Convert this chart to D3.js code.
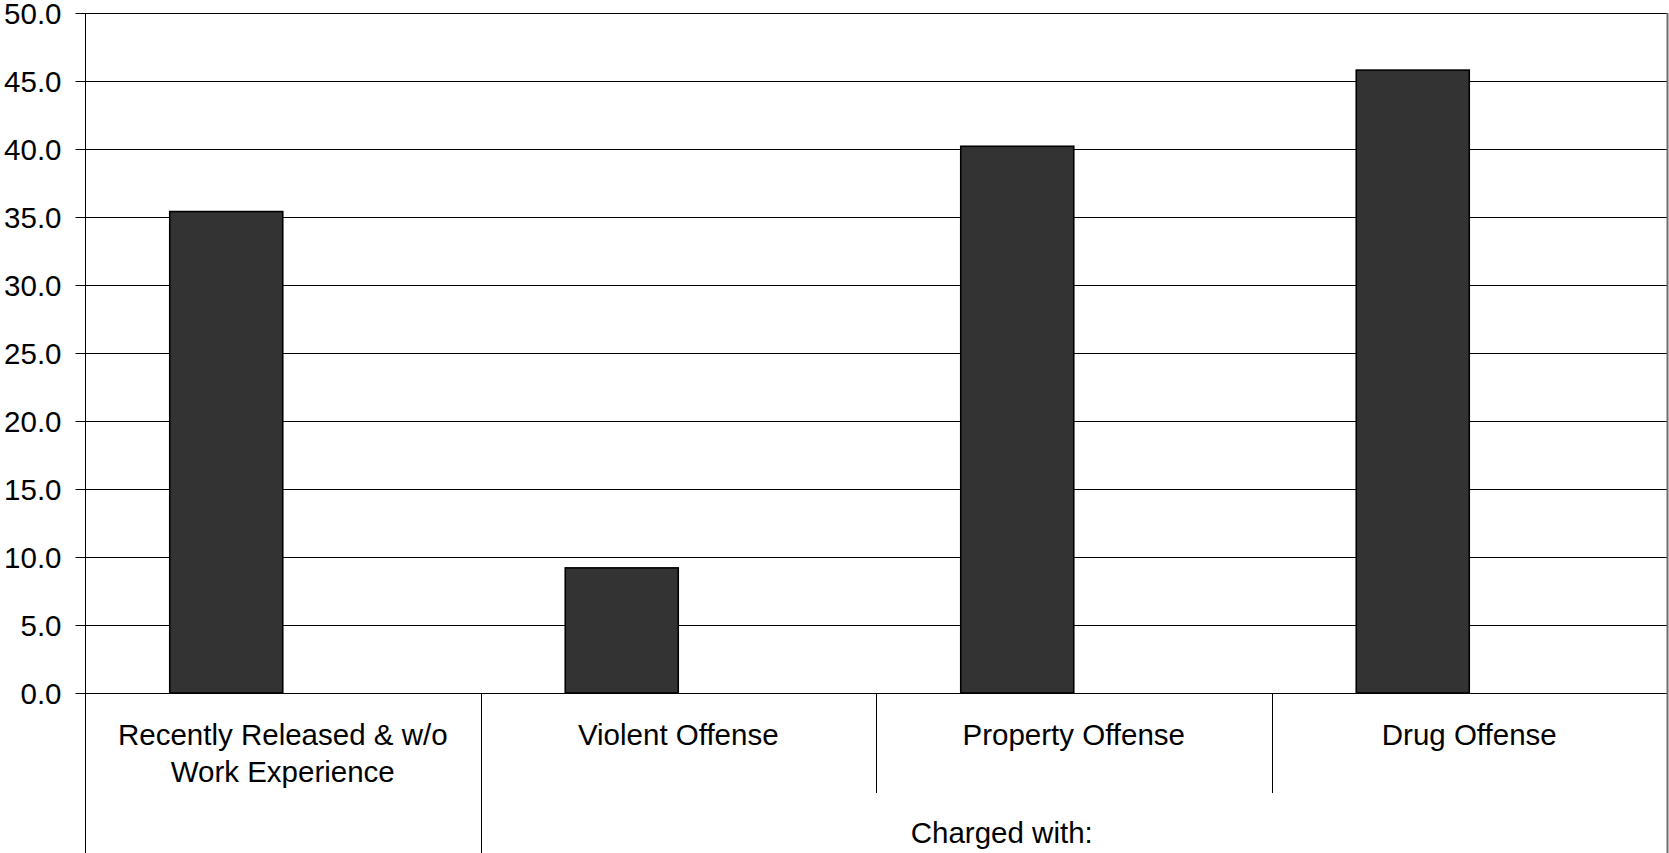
<!DOCTYPE html>
<html>
<head>
<meta charset="utf-8">
<script src="https://cdn.jsdelivr.net/npm/d3@7"></script>
<style>
  html, body { margin: 0; padding: 0; background: #fff; }
  svg { display: block; }
  text { font-family: "Liberation Sans", Arial, sans-serif; fill: #000; }
</style>
</head>
<body>
<svg id="chart" width="1669" height="853"></svg>
<script>
// Percent of each group, by category
const categories = ["Recently Released & w/o Work Experience", "Violent Offense", "Property Offense", "Drug Offense"];
const categoryLines = [["Recently Released & w/o", "Work Experience"], ["Violent Offense"], ["Property Offense"], ["Drug Offense"]];
const values = [35.4, 9.2, 40.2, 45.8];
const yTicks = [0, 5, 10, 15, 20, 25, 30, 35, 40, 45, 50];
// Outer category groups: [label, first index, last index]
const groups = [["", 0, 0], ["Charged with:", 1, 3]];
// Cluster slots per category; the second slot stays empty
const slots = ["value", "empty"];

const svg = d3.select("#chart");
const plotLeft = 85, plotRight = 1667, plotTop = 13, plotBottom = 693, fullH = 853;
const fs = 29.5;

const x = d3.scaleBand().domain(categories).range([plotLeft, plotRight]).paddingInner(0).paddingOuter(0);
const xs = d3.scaleBand().domain(slots).range([0, x.bandwidth()]).paddingInner(0).paddingOuter(0.75);
const y = d3.scaleLinear().domain([0, 50]).range([plotBottom, plotTop]);

// Horizontal gridlines
svg.append("g").selectAll("line").data(yTicks).join("line")
  .attr("x1", plotLeft).attr("x2", plotRight)
  .attr("y1", d => Math.round(y(d)) + 0.5).attr("y2", d => Math.round(y(d)) + 0.5)
  .attr("stroke", "#000").attr("stroke-width", 1);

// Y axis with tick marks on the left
const yAxis = d3.axisLeft(y).tickValues(yTicks).tickFormat(d3.format(".1f")).tickSize(10).tickPadding(14);
const gy = svg.append("g").attr("transform", `translate(${plotLeft + 0.5},0.5)`).call(yAxis);
gy.select(".domain").remove();
gy.selectAll(".tick line").attr("stroke", "#000");
gy.selectAll(".tick").attr("transform", d => `translate(0,${Math.round(y(d))})`);
gy.selectAll(".tick text").attr("font-size", fs).attr("font-family", "Liberation Sans, Arial, sans-serif")
  .attr("fill", "#000").attr("dy", "0.36em").attr("x", -24);

// Bars
svg.append("g").selectAll("rect").data(values).join("rect")
  .attr("x", (d, i) => x(categories[i]) + xs("value"))
  .attr("y", d => y(d))
  .attr("width", xs.bandwidth())
  .attr("height", d => y(0) - y(d))
  .attr("fill", "#333333")
  .attr("stroke", "#000")
  .attr("stroke-width", 1.6);

// Left axis line, running down through the category label area
svg.append("line").attr("x1", plotLeft + 0.5).attr("x2", plotLeft + 0.5).attr("y1", plotTop).attr("y2", fullH)
  .attr("stroke", "#000").attr("stroke-width", 1);

// Right border of plot area
svg.append("line").attr("x1", plotRight + 0.5).attr("x2", plotRight + 0.5).attr("y1", plotTop).attr("y2", fullH)
  .attr("stroke", "#6e6e6e").attr("stroke-width", 2);

// Category separators: inner (within a group) and outer (between groups)
const groupStarts = new Set(groups.map(g => g[1]));
svg.append("g").selectAll("line").data(categories.slice(1)).join("line")
  .attr("x1", d => Math.round(x(d)) + 0.5).attr("x2", d => Math.round(x(d)) + 0.5)
  .attr("y1", plotBottom)
  .attr("y2", (d, i) => groupStarts.has(i + 1) ? fullH : 793)
  .attr("stroke", "#000").attr("stroke-width", 1);

// Category labels
const cl = svg.append("g").selectAll("text").data(categoryLines).join("text")
  .attr("text-anchor", "middle")
  .attr("font-size", fs)
  .attr("x", (d, i) => x(categories[i]) + x.bandwidth() / 2)
  .attr("y", 745);
cl.selectAll("tspan").data(d => d).join("tspan")
  .attr("x", function () { return this.parentNode.getAttribute("x"); })
  .attr("dy", (d, i) => i === 0 ? 0 : 36.5)
  .text(d => d);

// Group labels
svg.append("g").selectAll("text").data(groups.filter(g => g[0])).join("text")
  .attr("text-anchor", "middle")
  .attr("font-size", fs)
  .attr("x", g => (x(categories[g[1]]) + x(categories[g[2]]) + x.bandwidth()) / 2 - 72)
  .attr("y", 843)
  .text(g => g[0]);
</script>
</body>
</html>
